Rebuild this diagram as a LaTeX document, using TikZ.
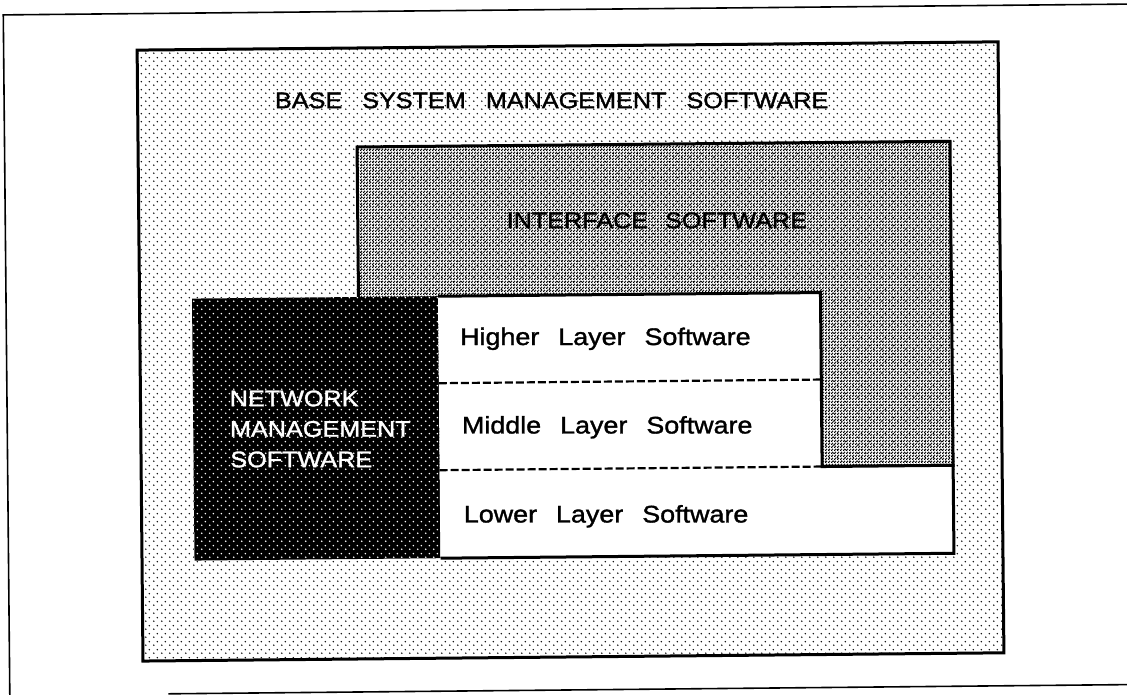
\documentclass[tikz,border=0pt]{standalone}
\usepackage{fontspec}
\usetikzlibrary{patterns.meta}
\newfontfamily\lab[FakeStretch=1.12,FakeBold=1.4]{Liberation Sans}

% halftone screens
\tikzdeclarepattern{name=sparsedots, type=uncolored,
  bottom left={(0pt,0pt)}, top right={(8pt,8pt)}, tile size={(8pt,8pt)},
  code={\pgfpathcircle{\pgfqpoint{2pt}{2pt}}{0.9pt}
        \pgfpathcircle{\pgfqpoint{6pt}{6pt}}{0.9pt}\pgfusepath{fill}}}
\tikzdeclarepattern{name=finedots, type=uncolored,
  bottom left={(0pt,0pt)}, top right={(3pt,3pt)}, tile size={(3pt,3pt)},
  code={\pgfpathcircle{\pgfqpoint{0.75pt}{0.75pt}}{1pt}
        \pgfpathcircle{\pgfqpoint{2.25pt}{2.25pt}}{1pt}\pgfusepath{fill}}}
\tikzdeclarepattern{name=holedots, type=uncolored,
  bottom left={(0pt,0pt)}, top right={(8pt,8pt)}, tile size={(8pt,8pt)},
  code={\pgfpathcircle{\pgfqpoint{2pt}{2pt}}{0.95pt}
        \pgfpathcircle{\pgfqpoint{6pt}{6pt}}{0.95pt}\pgfusepath{fill}}}

\newcommand\wgap[1]{\hspace{#1}}

\begin{document}
\begin{tikzpicture}[x=1pt,y=-1pt,
  frame/.style={line width=1.6pt},
  boxline/.style={line width=3pt},
  sepline/.style={line width=2.2pt, dash pattern=on 8pt off 3pt},
  lbl/.style={font=\lab\fontsize{22.5}{27}\selectfont, inner sep=0pt},
  layer lbl/.style={font=\lab\fontsize{24}{28}\selectfont, inner sep=0pt, anchor=base west},
  white lbl/.style={lbl, text=white}]
\useasboundingbox (0,0) rectangle (1127,694);
\begin{scope}[rotate around={0.55:(565,350)}]
  % page frame
  \draw[frame] (6.5,700) -- (6.5,9.5) -- (1145,9.5);
  \draw[frame] (165,690) -- (1145,690);

  % base system management area
  \path[pattern=sparsedots] (140,46) rectangle (1001,657);
  \draw[boxline] (140,46) rectangle (1001,657);
  \node[lbl, anchor=base] (base) at (554,108)
    {BASE\wgap{20pt}SYSTEM\wgap{20pt}MANAGEMENT\wgap{20pt}SOFTWARE};

  % interface software area
  \path[pattern=finedots] (359,145) rectangle (952,469);
  \draw[boxline] (359,145) rectangle (952,469);
  \node[lbl, anchor=base] (iface) at (658,229)
    {INTERFACE\wgap{17pt}SOFTWARE};

  % network management block
  \fill[black] (192.5,295) rectangle (438.5,557);
  \path[pattern=holedots, pattern color=white] (192.5,295) rectangle (438.5,557);
  \node[white lbl, anchor=base west] (nm1) at (229,403) {NETWORK};
  \node[white lbl, anchor=base west] (nm2) at (229,433.5) {MANAGEMENT};
  \node[white lbl, anchor=base west] (nm3) at (229,464) {SOFTWARE};

  % protocol layer stack
  \fill[white] (438.5,295) -- (821,295) -- (821,469) -- (952,469)
               -- (952,557) -- (438.5,557) -- cycle;
  \draw[boxline] (438.5,295) -- (821,295) -- (821,469) -- (952,469)
               -- (952,557) -- (438.5,557);
  \draw[sepline] (438.5,382) -- (821,382);
  \draw[sepline] (438.5,469) -- (821,469);
  \node[layer lbl] (hl) at (460,344)
    {Higher\wgap{19pt}Layer\wgap{19pt}Software};
  \node[layer lbl] (ml) at (461,432.5)
    {Middle\wgap{19pt}Layer\wgap{19pt}Software};
  \node[layer lbl] (ll) at (462,521.5)
    {Lower\wgap{19pt}Layer\wgap{19pt}Software};
\end{scope}
\end{tikzpicture}
\end{document}
